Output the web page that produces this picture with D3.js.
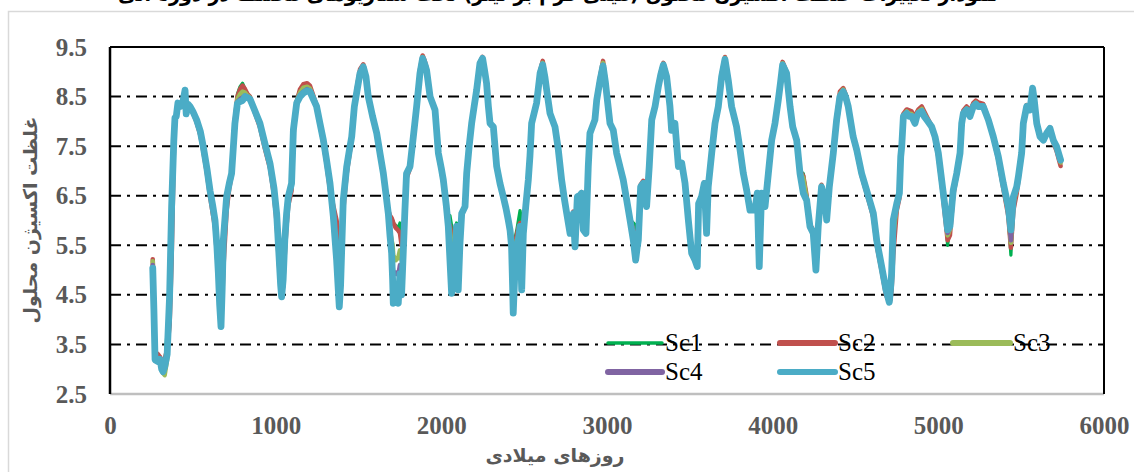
<!DOCTYPE html>
<html><head><meta charset="utf-8">
<script src="https://cdn.jsdelivr.net/npm/d3@7"></script>
<style>html,body{margin:0;padding:0;background:#fff;overflow:hidden}</style>
</head><body>
<svg id="c" width="1134" height="472"></svg>
<script>
// ---- data ----
const xTicks = [0,1000,2000,3000,4000,5000,6000];
const yTicks = [2.5,3.5,4.5,5.5,6.5,7.5,8.5,9.5];
const seriesNames = ["Sc1","Sc2","Sc3","Sc4","Sc5"];
const days = [
258,265,272,290,302,312,320,330,345,360,372,385,392,400,410,425,440,453,460,470,483,500,523,545,563,585,604,620,634,645,
654,662,670,677,684,704,720,734,745,754,769,785,800,815,830,845,870,905,935,966,990,1006,1020,1030,1036,1045,1055,1066,
1076,1096,1107,1127,1147,1167,1190,1207,1227,1247,1268,1288,1308,1328,1348,1368,1378,1384,1392,1399,
1408,1429,1444,1459,1475,1490,1509,1529,1545,1559,1585,1610,1630,1650,1665,1680,1690,1700,1706,1710,1725,1740,1750,1760,1770,1780,1790,1811,
1831,1851,1871,1887,1900,1911,1932,1962,1982,2000,2012,2030,2042,2052,2062,2072,2082,2092,2102,2112,2123,2143,2153,
2168,2183,2198,2213,2233,2249,2260,2273,2284,2294,2314,2334,2354,2374,2390,2404,2415,2424,2430,2434,2442,2455,2465,2475,2485,2495,2510,2525,
2535,2545,2575,2596,2612,2625,2636,2656,2686,2706,2726,2742,2757,2777,2797,2807,2821,2835,2847,2857,2873,2887,
2897,2927,2938,2958,2976,2990,3000,3018,3038,3058,3078,3098,3119,3139,3159,3173,3182,3189,3203,3219,3239,
3255,3270,3290,3310,3325,3340,3360,3380,3390,3410,3431,3451,3471,3491,3511,3531,3545,3553,3571,3587,3601,3611,
3632,3652,3672,3692,3712,3732,3752,3782,3803,3823,3843,3863,3893,3907,3919,3933,3954,
3974,3994,4014,4034,4048,4060,4084,4105,4121,4145,4165,4185,4205,4225,4245,4261,4275,4295,4316,4326,4342,
4366,4386,4406,4426,4440,4456,4486,4507,4537,4567,4590,4608,4628,4658,4684,4704,4711,4718,4728,
4749,4765,4773,4779,4789,4809,4824,4839,4859,4870,4880,4900,4915,4930,4960,4980,5000,5020,5040,5056,5070,
5090,5111,5131,5141,5151,5171,5191,5211,5226,5241,5271,5302,5332,5362,5392,5422,5438,
5453,5473,5483,5503,5513,5533,5553,5569,5579,5594,5614,5634,5654,5674,5694,5714,5738
];
const sc1 = [
5.15,4.3,3.3,3.25,3.25,3.1,3.0,3.05,3.8,4.1,5.6,7.5,8.0,8.15,8.4,8.35,8.42,8.6,8.3,8.38,8.32,8.2,8.0,7.75,7.42,6.98,6.5,6.2,5.9,5.4,
4.85,4.25,3.9,4.6,5.5,6.4,6.7,7.0,7.6,8.1,8.55,8.7,8.77,8.65,8.55,8.5,8.25,7.9,7.48,7.08,6.55,6.0,5.1,4.6,4.5,4.8,5.5,6.05,
6.4,6.7,7.85,8.45,8.65,8.73,8.75,8.7,8.5,8.3,7.9,7.55,7.1,6.6,5.85,5.55,5.0,4.6,4.9,5.5,
6.3,7.0,7.35,7.7,8.35,8.7,9.05,9.12,8.9,8.45,8.05,7.7,7.3,6.9,6.5,6.15,6.1,6.05,6.0,5.95,5.9,5.85,5.95,5.6,5.7,6.3,6.95,7.1,
7.72,8.35,9.05,9.3,9.2,9.05,8.5,8.2,7.3,7.0,6.75,6.25,6.0,6.1,5.9,5.8,5.7,5.95,5.6,5.8,6.2,6.3,6.95,
7.52,8.0,8.35,8.68,9.2,9.28,9.05,8.75,8.28,7.95,7.88,7.15,6.8,6.5,6.2,5.95,5.8,5.6,5.55,5.5,5.6,5.8,6.0,6.2,6.0,6.0,6.35,6.82,
7.3,7.98,8.4,9.0,9.18,8.92,8.63,8.15,7.88,7.42,6.82,6.45,6.14,5.85,6.14,5.6,6.5,6.52,6.55,5.9,5.8,7.05,
7.75,8.05,8.47,8.9,9.2,8.85,8.5,7.95,7.8,7.34,7.07,6.8,6.4,6.02,5.95,5.9,5.7,5.75,6.7,6.78,6.3,
7.09,8.05,8.33,8.73,8.98,9.17,8.92,8.3,7.82,7.96,7.09,7.16,6.75,6.01,5.36,5.22,5.1,6.34,6.48,6.75,5.74,6.68,
7.38,7.98,8.34,8.95,9.28,8.86,8.32,7.9,7.44,6.95,6.6,6.22,6.22,6.55,5.1,6.55,6.28,
6.97,7.64,7.98,8.46,8.84,9.18,9.0,8.3,7.88,7.6,7.0,6.95,6.5,5.9,5.78,5.6,5.9,6.7,6.42,6.03,6.7,
7.4,8.1,8.6,8.67,8.55,8.3,7.65,7.4,6.92,6.58,6.32,6.1,5.55,5.02,4.55,4.4,4.5,4.7,5.6,
6.3,6.5,7.25,7.5,8.15,8.22,8.2,8.18,8.05,8.15,8.22,8.28,8.18,8.08,7.9,7.65,7.3,6.75,6.15,5.5,5.85,
6.58,6.95,7.4,8.0,8.2,8.28,8.18,8.35,8.4,8.36,8.33,8.02,7.65,7.22,6.65,6.1,5.3,
6.3,6.6,6.85,7.38,7.98,8.33,8.26,8.67,8.43,7.96,7.69,7.62,7.76,7.86,7.6,7.43,7.14
];
const sc2 = [
5.22,4.35,3.35,3.3,3.25,3.15,3.1,3.2,3.4,3.9,5.2,7.3,7.95,8.1,8.35,8.3,8.4,8.58,8.3,8.35,8.3,8.18,7.98,7.72,7.4,6.95,6.48,6.15,5.85,5.3,
4.9,4.3,3.95,4.3,5.0,6.2,6.65,6.9,7.55,8.05,8.5,8.65,8.72,8.65,8.55,8.5,8.22,7.88,7.45,7.05,6.5,5.95,5.1,4.75,4.55,4.65,5.3,5.9,
6.3,6.6,7.7,8.4,8.65,8.75,8.77,8.72,8.52,8.32,7.92,7.55,7.12,6.6,6.3,6.0,5.6,5.3,5.0,5.6,
6.2,6.95,7.3,7.65,8.3,8.68,9.05,9.15,8.92,8.48,8.08,7.75,7.35,6.95,6.55,6.2,6.1,6.05,6.0,5.95,5.85,5.8,5.75,5.5,5.6,6.1,6.85,7.05,
7.65,8.3,9.05,9.33,9.22,9.08,8.52,8.22,7.32,7.0,6.75,6.25,5.95,5.9,5.7,5.6,5.6,5.9,5.5,5.7,6.1,6.28,6.9,
7.48,7.95,8.3,8.65,9.2,9.3,9.08,8.78,8.3,7.96,7.88,7.12,6.78,6.5,6.25,6.0,5.8,5.6,5.5,5.45,5.5,5.7,5.85,5.95,5.6,5.8,6.3,6.8,
7.25,7.95,8.38,9.02,9.22,8.95,8.65,8.17,7.9,7.44,6.84,6.48,6.18,5.9,6.18,5.7,6.45,6.52,6.57,5.95,5.85,7.0,
7.74,8.05,8.48,8.9,9.22,8.86,8.52,7.97,7.83,7.37,7.12,6.85,6.45,6.05,5.8,5.75,5.6,5.7,6.72,6.8,6.32,
7.07,8.03,8.32,8.74,9.0,9.18,8.93,8.32,7.84,7.97,7.1,7.17,6.76,6.02,5.36,5.22,5.1,6.35,6.5,6.77,5.76,6.68,
7.37,7.98,8.35,8.96,9.3,8.88,8.33,7.91,7.45,6.97,6.63,6.24,6.24,6.57,5.12,6.56,6.3,
6.96,7.64,7.98,8.46,8.84,9.2,9.0,8.32,7.9,7.62,7.0,6.9,6.5,5.92,5.8,5.5,5.9,6.72,6.44,6.05,6.7,
7.35,8.08,8.6,8.67,8.55,8.32,7.66,7.38,6.9,6.55,6.28,6.05,5.5,4.98,4.5,4.35,4.4,4.6,5.3,
6.2,6.45,7.2,7.45,8.15,8.24,8.22,8.2,8.06,8.18,8.24,8.3,8.2,8.1,7.9,7.65,7.28,6.72,6.1,5.6,5.7,
6.5,6.9,7.35,8.0,8.22,8.3,8.2,8.37,8.42,8.38,8.35,8.05,7.66,7.22,6.65,6.1,5.45,
6.2,6.55,6.8,7.35,7.95,8.33,8.27,8.68,8.44,7.97,7.7,7.62,7.77,7.88,7.58,7.4,7.1
];
const sc3 = [
5.18,4.3,3.25,3.2,3.2,3.0,2.92,2.88,3.2,4.3,6.0,7.5,8.0,8.1,8.35,8.3,8.4,8.6,8.25,8.35,8.3,8.2,8.0,7.76,7.45,7.0,6.55,6.25,5.95,5.45,
4.92,4.28,3.88,4.55,5.5,6.45,6.72,6.96,7.55,8.0,8.45,8.55,8.6,8.58,8.52,8.48,8.25,7.92,7.5,7.1,6.6,6.08,5.25,4.65,4.48,4.75,5.55,6.1,
6.42,6.72,7.8,8.4,8.58,8.68,8.7,8.66,8.48,8.3,7.93,7.58,7.15,6.68,6.0,5.35,4.8,4.45,4.8,5.5,
6.35,7.05,7.38,7.7,8.32,8.65,9.0,9.12,8.9,8.48,8.08,7.74,7.33,6.93,6.53,6.12,5.8,5.6,5.5,5.3,5.2,5.25,5.4,5.2,5.5,6.2,6.95,7.09,
7.7,8.32,9.0,9.3,9.18,9.05,8.5,8.22,7.34,7.03,6.8,6.28,5.9,5.8,5.5,5.4,5.5,5.88,5.3,5.6,6.14,6.28,6.95,
7.5,7.96,8.3,8.63,9.18,9.27,9.05,8.77,8.3,7.96,7.89,7.1,6.76,6.48,6.25,6.0,5.8,5.55,5.4,5.3,5.4,5.6,5.7,5.9,5.4,5.74,6.3,6.82,
7.3,7.96,8.38,8.98,9.18,8.92,8.63,8.16,7.89,7.43,6.82,6.45,6.14,5.8,6.14,5.6,6.48,6.5,6.55,5.85,5.78,7.07,
7.76,8.04,8.45,8.87,9.18,8.82,8.5,7.96,7.82,7.36,7.1,6.83,6.42,6.02,5.7,5.6,5.55,5.65,6.7,6.77,6.3,
7.09,8.04,8.32,8.72,8.97,9.16,8.91,8.3,7.82,7.96,7.09,7.16,6.75,6.01,5.35,5.21,5.08,6.34,6.48,6.75,5.74,6.68,
7.37,7.97,8.32,8.93,9.28,8.85,8.31,7.9,7.44,6.96,6.62,6.22,6.22,6.55,5.08,6.55,6.28,
6.95,7.63,7.97,8.45,8.82,9.17,8.98,8.3,7.89,7.62,6.98,6.85,6.45,5.9,5.76,5.3,5.88,6.7,6.42,6.02,6.68,
7.38,8.06,8.55,8.64,8.52,8.3,7.67,7.41,6.93,6.6,6.33,6.12,5.57,5.04,4.57,4.38,4.5,4.75,5.7,
6.3,6.52,7.27,7.48,8.12,8.2,8.16,8.15,8.0,8.13,8.2,8.25,8.15,8.06,7.9,7.68,7.33,6.78,6.22,5.7,5.82,
6.58,6.95,7.38,7.98,8.18,8.26,8.14,8.33,8.38,8.33,8.32,8.03,7.67,7.25,6.7,6.18,5.55,
6.35,6.62,6.86,7.37,7.97,8.32,8.25,8.67,8.43,7.96,7.69,7.62,7.76,7.87,7.6,7.45,7.17
];
const sc4 = [
5.1,4.25,3.22,3.18,3.2,3.02,2.97,3.0,3.25,4.4,6.2,7.55,8.05,8.1,8.36,8.3,8.4,8.62,8.2,8.35,8.3,8.2,8.02,7.78,7.47,7.03,6.58,6.28,5.98,5.48,
4.93,4.3,3.87,4.58,5.58,6.47,6.74,6.95,7.52,7.97,8.4,8.45,8.48,8.52,8.5,8.46,8.25,7.94,7.52,7.12,6.62,6.1,5.28,4.68,4.47,4.78,5.58,6.12,
6.46,6.74,7.82,8.38,8.53,8.6,8.65,8.62,8.46,8.3,7.94,7.6,7.18,6.72,6.05,5.25,4.65,4.3,4.72,5.47,
6.4,7.08,7.4,7.69,8.3,8.62,8.98,9.1,8.9,8.5,8.1,7.76,7.35,6.95,6.55,6.14,5.72,5.4,5.1,4.9,4.95,4.9,5.1,4.95,5.4,6.2,6.95,7.09,
7.69,8.3,8.98,9.27,9.16,9.03,8.5,8.23,7.36,7.05,6.82,6.3,5.88,5.5,5.0,5.0,5.2,5.88,5.0,5.5,6.14,6.28,6.95,
7.5,7.96,8.3,8.63,9.17,9.27,9.05,8.77,8.3,7.96,7.89,7.09,6.75,6.48,6.25,6.01,5.8,5.5,5.1,4.8,5.0,5.5,5.6,5.88,5.0,5.74,6.3,6.82,
7.3,7.96,8.37,8.97,9.15,8.9,8.63,8.16,7.89,7.43,6.82,6.45,6.14,5.76,6.14,5.5,6.48,6.5,6.55,5.82,5.75,7.09,
7.76,8.03,8.43,8.84,9.14,8.8,8.5,7.96,7.82,7.36,7.09,6.82,6.41,6.01,5.62,5.3,5.47,5.6,6.68,6.75,6.28,
7.09,8.03,8.3,8.7,8.95,9.14,8.9,8.3,7.82,7.96,7.09,7.16,6.75,6.01,5.34,5.2,5.07,6.34,6.48,6.75,5.74,6.68,
7.36,7.96,8.3,8.9,9.25,8.83,8.3,7.89,7.43,6.95,6.61,6.21,6.21,6.55,5.07,6.55,6.28,
6.95,7.62,7.96,8.43,8.8,9.14,8.97,8.3,7.89,7.62,6.95,6.6,6.41,5.88,5.74,5.05,5.88,6.68,6.41,6.01,6.68,
7.3,7.95,8.42,8.55,8.48,8.28,7.68,7.42,6.94,6.6,6.34,6.13,5.58,5.05,4.58,4.36,4.58,4.88,5.9,
6.32,6.54,7.28,7.49,8.1,8.17,8.12,8.12,7.97,8.11,8.17,8.22,8.12,8.04,7.89,7.69,7.35,6.8,6.25,5.75,5.86,
6.6,6.95,7.36,7.96,8.17,8.24,8.12,8.31,8.36,8.31,8.3,8.03,7.68,7.27,6.72,6.22,5.6,
6.4,6.65,6.87,7.36,7.96,8.3,8.23,8.67,8.43,7.96,7.69,7.62,7.76,7.86,7.61,7.47,7.2
];
const sc5 = [
5.04,4.2,3.19,3.15,3.2,3.0,2.95,3.05,3.3,4.5,6.28,7.6,8.07,8.1,8.37,8.3,8.4,8.63,8.15,8.35,8.3,8.2,8.03,7.8,7.49,7.05,6.6,6.3,6.0,5.5,
4.94,4.3,3.86,4.6,5.6,6.48,6.75,6.95,7.5,7.96,8.36,8.4,8.42,8.5,8.48,8.45,8.25,7.96,7.55,7.15,6.65,6.14,5.3,4.7,4.46,4.8,5.6,6.14,
6.48,6.75,7.83,8.37,8.5,8.57,8.62,8.6,8.45,8.3,7.95,7.62,7.2,6.75,6.08,5.2,4.6,4.26,4.7,5.46,
6.41,7.09,7.4,7.69,8.3,8.6,8.97,9.1,8.9,8.5,8.1,7.76,7.35,6.95,6.55,6.14,5.7,5.34,4.8,4.33,4.4,4.33,4.93,4.5,5.34,6.2,6.95,7.09,
7.69,8.3,8.97,9.27,9.15,9.03,8.5,8.23,7.36,7.05,6.82,6.3,5.88,5.2,4.53,4.8,5.07,5.88,4.6,5.5,6.14,6.28,6.95,
7.5,7.96,8.3,8.63,9.17,9.27,9.05,8.77,8.3,7.96,7.89,7.09,6.75,6.48,6.25,6.01,5.8,5.47,4.7,4.13,4.8,5.47,5.6,5.88,4.6,5.74,6.3,6.82,
7.3,7.96,8.37,8.97,9.14,8.9,8.63,8.16,7.89,7.43,6.82,6.45,6.14,5.74,6.14,5.47,6.48,6.5,6.55,5.81,5.74,7.09,
7.76,8.03,8.43,8.83,9.12,8.8,8.5,7.96,7.82,7.36,7.09,6.82,6.41,6.01,5.6,5.2,5.45,5.6,6.68,6.75,6.28,
7.09,8.03,8.3,8.7,8.95,9.14,8.9,8.3,7.82,7.96,7.09,7.16,6.75,6.01,5.34,5.2,5.07,6.34,6.48,6.75,5.74,6.68,
7.36,7.96,8.3,8.9,9.25,8.83,8.3,7.89,7.43,6.95,6.61,6.21,6.21,6.55,5.07,6.55,6.28,
6.95,7.62,7.96,8.43,8.8,9.14,8.97,8.3,7.89,7.62,6.95,6.55,6.41,5.88,5.74,5.0,5.88,6.68,6.41,6.01,6.68,
7.36,8.03,8.5,8.6,8.5,8.3,7.69,7.43,6.95,6.61,6.35,6.14,5.6,5.07,4.6,4.35,4.6,4.93,6.01,
6.34,6.55,7.29,7.49,8.1,8.16,8.1,8.1,7.96,8.1,8.16,8.2,8.1,8.03,7.89,7.69,7.36,6.82,6.28,5.81,5.88,
6.61,6.95,7.36,7.96,8.16,8.23,8.1,8.3,8.35,8.3,8.3,8.03,7.69,7.29,6.75,6.28,5.81,
6.48,6.68,6.88,7.36,7.96,8.3,8.23,8.67,8.43,7.96,7.69,7.62,7.76,7.86,7.62,7.49,7.22
];
const titleText = "نمودار تغییرات غلظت اکسیژن محلول (میلی گرم بر لیتر) تحت سناریوهای مختلف در دوره آتی";
const yTitle = "غلظت اکسیژن محلول";
const xTitle = "روزهای میلادی";

// ---- drawing ----
const svg = d3.select("#c");
const L = 110, R = 1104, T = 47, B = 394;
const x = d3.scaleLinear().domain([0, 6000]).range([L, R]);
const y = d3.scaleLinear().domain([2.5, 9.5]).range([B, T]);

const colors = ["#00B050", "#C0504D", "#9BBB59", "#8064A2", "#4BACC6"];
const widths = [3.2, 4.5, 4.5, 4.5, 6.8];
const allVals = [sc1, sc2, sc3, sc4, sc5];
const series = seriesNames.map((n, i) => ({
  name: n, color: colors[i], width: widths[i],
  points: days.slice(0, Math.min(days.length, allVals[i].length)).map((d, k) => ({ d, v: allVals[i][k] }))
}));

// outer chart border
svg.append("rect").attr("x", 8.5).attr("y", 11.5).attr("width", 1200).attr("height", 600)
  .attr("fill", "none").attr("stroke", "#d9d9d9").attr("stroke-width", 1.5);

// title (cut at the top edge, as in the reference)
svg.append("text").attr("x", 558).attr("y", 1).attr("text-anchor", "middle")
  .attr("font-family", "DejaVu Sans").attr("font-weight", "bold").attr("font-size", 20)
  .attr("fill", "#000").attr("textLength", 880).attr("lengthAdjust", "spacingAndGlyphs")
  .text(titleText);

// gridlines
svg.append("g").selectAll("line").data(yTicks.filter(t => t > 2.5 && t < 9.5)).join("line")
  .attr("x1", L).attr("x2", R).attr("y1", d => y(d)).attr("y2", d => y(d))
  .attr("stroke", "#000").attr("stroke-width", 2).attr("stroke-dasharray", "11,6,3,6");

// axes frame
svg.append("line").attr("x1", L).attr("x2", R).attr("y1", B).attr("y2", B).attr("stroke", "#bfbfbf").attr("stroke-width", 2.5);
svg.append("line").attr("x1", L).attr("x2", R).attr("y1", y(9.5)).attr("y2", y(9.5)).attr("stroke", "#000").attr("stroke-width", 2);
svg.append("line").attr("x1", R).attr("x2", R).attr("y1", T).attr("y2", B).attr("stroke", "#000").attr("stroke-width", 2);
svg.append("line").attr("x1", L).attr("x2", L).attr("y1", T).attr("y2", B).attr("stroke", "#000").attr("stroke-width", 2.5);

// axis labels via d3 axes
const ya = svg.append("g").attr("transform", `translate(${L},0)`)
  .call(d3.axisLeft(y).tickValues(yTicks).tickSize(0).tickPadding(23).tickFormat(d3.format(".1f")));
const xa = svg.append("g").attr("transform", `translate(0,${B})`)
  .call(d3.axisBottom(x).tickValues(xTicks).tickSize(0).tickPadding(22).tickFormat(d3.format("d")));
[ya, xa].forEach(g => {
  g.select(".domain").remove();
  g.selectAll("text").attr("font-family", "Liberation Serif").attr("font-weight", "bold")
    .attr("font-size", 25).attr("fill", "#595959");
});

// series
const line = d3.line().x(p => x(p.d)).y(p => y(p.v));
svg.append("g").selectAll("path").data(series).join("path")
  .attr("d", s => line(s.points)).attr("fill", "none")
  .attr("stroke", s => s.color).attr("stroke-width", s => s.width)
  .attr("stroke-linejoin", "round").attr("stroke-linecap", "round");

// legend
const legPos = [[608, 343], [780, 343], [953, 343], [608, 372], [780, 372]];
const legLen = [54, 55, 57, 54, 55];
const lg = svg.append("g").selectAll("g").data(series).join("g")
  .attr("transform", (s, i) => `translate(${legPos[i][0]},${legPos[i][1]})`);
lg.append("line").attr("x1", 0).attr("x2", (s, i) => legLen[i]).attr("y1", 0).attr("y2", 0)
  .attr("stroke", s => s.color).attr("stroke-width", (s, i) => i === 0 ? 3.5 : 6).attr("stroke-linecap", "round");
lg.append("text").attr("x", (s, i) => legLen[i] + 3).attr("y", 8)
  .attr("font-family", "Liberation Serif").attr("font-size", 25).attr("fill", "#000")
  .text(s => s.name);

// axis titles
svg.append("text").attr("transform", `translate(37,220) rotate(-90)`).attr("text-anchor", "middle")
  .attr("font-family", "DejaVu Sans").attr("font-weight", "bold").attr("font-size", 19).attr("fill", "#595959").text(yTitle);
svg.append("text").attr("x", 555).attr("y", 462).attr("text-anchor", "middle")
  .attr("font-family", "DejaVu Sans").attr("font-weight", "bold").attr("font-size", 19).attr("fill", "#595959").text(xTitle);
</script>
</body></html>
